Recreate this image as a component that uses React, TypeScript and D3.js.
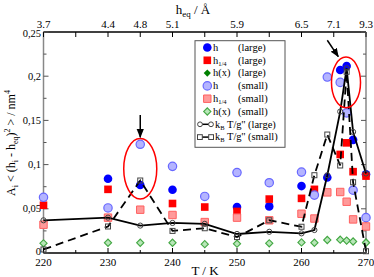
import React from 'react';
import * as d3 from 'd3';

const temps = [220, 230, 235, 240, 245, 250, 255, 260, 262, 264, 266, 267, 268, 270];

const hLarge = [null, 0.084, 0.077, 0.0716, null, 0.052, 0.0527, 0.0757, null, 0.0855, 0.207, 0.2116, 0.128, 0.089];
const h14Large = [0.054, 0.072, null, 0.056, 0.052, 0.047, 0.061, 0.0618, 0.072, null, 0.1115, 0.1246, 0.092, 0.087];
const hxLarge = [null, null, null, null, null, null, null, null, null, 0.0147, 0.015, 0.014, 0.013, 0.0125];
const hSmall = [0.063, 0.051, 0.123, 0.098, 0.064, 0.091, 0.0795, 0.0915, 0.0655, 0.199, 0.193, 0.1585, 0.071, 0.04];
const h14Small = [0.032, 0.04, 0.049, 0.043, 0.035, 0.04, 0.037, 0.0444, 0.039, 0.0686, 0.069, 0.058, 0.038, 0.03];
const hxSmall = [0.011, 0.0116, 0.0116, 0.0116, 0.01, 0.0105, 0.011, 0.012, 0.0116, 0.0147, 0.015, 0.014, 0.013, 0.0116];
const kLarge = [0.037, 0.04, 0.031, 0.034, 0.033, 0.0215, 0.024, 0.0222, 0.026, 0.088, 0.16, 0.209, 0.137, 0.09];
const kSmall = [0.004, 0.03, 0.082, 0.025, 0.028, 0.018, 0.037, 0.0297, 0.088, 0.134, 0.099, 0.205, 0.08, 0.002];

const xTicks = [220, 230, 240, 250, 260, 270];
const yTicks = [0, 0.05, 0.1, 0.15, 0.2, 0.25];
const yTickLabels = ['0', '0,05', '0,1', '0,15', '0,2', '0,25'];
const topTickT = [220, 230, 235, 240, 250, 260, 265, 270];
const topTickLabels = ['3.7', '4.4', '4.8', '5.1', '5.9', '6.5', '7.1', '9.3'];

// highlighted regions: [T centre, value centre, T half-width, value half-height]
const ellipses = [
  [235, 0.0953, 2.56, 0.0342],
  [266.9, 0.193, 2.25, 0.0286],
];
// arrows: [T start, v start, T end, v end]
const arrows = [
  [235, 0.156, 235, 0.131],
  [264, 0.2407, 265.7, 0.2222],
];

const W = 374;
const H = 277;
const serif = '"Liberation Serif", "DejaVu Serif", serif';

const x = d3.scaleLinear().domain([220, 270]).range([43.5, 366]);
const y = d3.scaleLinear().domain([0, 0.25]).range([253, 32]);

type Style = { shape: 'circle' | 'square' | 'diamond'; size: number; fill: string; stroke: string; sw: number };

const styles: Record<string, Style> = {
  hL: { shape: 'circle', size: 58, fill: '#0000ff', stroke: '#0000ff', sw: 0 },
  h14L: { shape: 'square', size: 58, fill: '#ff0000', stroke: '#ff0000', sw: 0 },
  hxL: { shape: 'diamond', size: 26, fill: '#008000', stroke: '#008000', sw: 0 },
  hS: { shape: 'circle', size: 55, fill: '#b4b4ff', stroke: '#6868ff', sw: 1.2 },
  h14S: { shape: 'square', size: 55, fill: '#ff9a9a', stroke: '#ff6060', sw: 1 },
  hxS: { shape: 'diamond', size: 26, fill: '#b8e6b8', stroke: '#44a844', sw: 1.1 },
};

function symPath(s: Style) {
  // diamonds are squares turned by 45 degrees
  const t = s.shape === 'circle' ? d3.symbolCircle : d3.symbolSquare;
  return d3.symbol().type(t).size(s.size)() || '';
}

function symTransform(s: Style, cx: number, cy: number) {
  return `translate(${cx},${cy})` + (s.shape === 'diamond' ? ' rotate(45)' : '');
}

function Points({ values, st }: { values: (number | null)[]; st: Style }) {
  const d = symPath(st);
  return (
    <g>
      {values.map((v, i) =>
        v == null ? null : (
          <path key={i} d={d} transform={symTransform(st, x(temps[i]), y(v))} fill={st.fill} stroke={st.stroke} strokeWidth={st.sw} />
        )
      )}
    </g>
  );
}

function KLine({ values, dashed, marker }: { values: number[]; dashed: boolean; marker: 'circle' | 'square' }) {
  const line = d3
    .line<number>()
    .x((_, i) => x(temps[i]))
    .y((v) => y(v));
  return (
    <g>
      <path d={line(values) || ''} fill="none" stroke="#000" strokeWidth={1.8} strokeDasharray={dashed ? '8,5' : undefined} />
      {values.map((v, i) =>
        marker === 'circle' ? (
          <circle key={i} cx={x(temps[i])} cy={y(v)} r={2.6} fill="none" stroke="#444" strokeWidth={1} />
        ) : (
          <rect key={i} x={x(temps[i]) - 2.5} y={y(v) - 2.5} width={5} height={5} fill="none" stroke="#444" strokeWidth={1} />
        )
      )}
    </g>
  );
}

function Legend() {
  const lx = 195;
  const ly = 40.7;
  const rows: { st?: Style; line?: 'solid' | 'dashed'; name: string; sub?: string; rest: string }[] = [
    { st: styles.hL, name: 'h', rest: '(large)' },
    { st: styles.h14L, name: 'h', sub: '1/4', rest: '(large)' },
    { st: styles.hxL, name: 'h(x)', rest: '(large)' },
    { st: styles.hS, name: 'h', rest: '(small)' },
    { st: styles.h14S, name: 'h', sub: '1/4', rest: '(small)' },
    { st: styles.hxS, name: 'h(x)', rest: '(small)' },
    { line: 'solid', name: 'k', sub: 'B', rest: "T/g'' (large)" },
    { line: 'dashed', name: 'k', sub: 'B', rest: "T/g'' (small)" },
  ];
  return (
    <g fontFamily={serif} fontSize={10.5}>
      <rect x={lx} y={ly} width={90} height={106.6} fill="#fff" stroke="#555" strokeWidth={1} />
      {rows.map((r, i) => {
        const cy = 47.5 + i * 12.8;
        if (r.st) {
          return (
            <g key={i}>
              <path d={symPath(r.st)} transform={symTransform(r.st, 207.3, cy)} fill={r.st.fill} stroke={r.st.stroke} strokeWidth={r.st.sw} />
              <text x={213} y={cy + 3.3}>
                {r.name}
                {r.sub && (
                  <tspan fontSize={6.5} dy={2}>
                    {r.sub}
                  </tspan>
                )}
              </text>
              <text x={238} y={cy + 3.3}>
                {r.rest}
              </text>
            </g>
          );
        }
        return (
          <g key={i}>
            <line x1={199} x2={212} y1={cy} y2={cy} stroke="#000" strokeWidth={1.5} />
            {r.line === 'solid' ? (
              <>
                <circle cx={200} cy={cy} r={2.4} fill="#fff" stroke="#444" />
                <circle cx={211} cy={cy} r={2.4} fill="#fff" stroke="#444" />
              </>
            ) : (
              <>
                <rect x={197.5} y={cy - 2.4} width={4.8} height={4.8} fill="#fff" stroke="#444" />
                <rect x={208.7} y={cy - 2.4} width={4.8} height={4.8} fill="#fff" stroke="#444" />
              </>
            )}
            <text x={215} y={cy + 3.3}>
              {r.name}
              <tspan fontSize={6.5} dy={2}>
                {r.sub}
              </tspan>
              <tspan dy={-2}>{' ' + r.rest}</tspan>
            </text>
          </g>
        );
      })}
    </g>
  );
}

export default function App() {
  const [x0, x1] = x.range();
  const [yb, yt] = y.range();
  const minorX = d3.range(220, 271, 5);
  const minorY = d3.range(0, 0.2501, 0.025);
  return (
    <svg width={W} height={H} style={{ position: 'absolute', left: 0, top: 0, background: '#fff' }}>
      {/* frame */}
      <line x1={x0} x2={x1} y1={yb} y2={yb} stroke="#000" strokeWidth={1.3} />
      <line x1={x0} x2={x1} y1={yt} y2={yt} stroke="#000" strokeWidth={1.3} />
      <line x1={x0} x2={x0} y1={yt} y2={yb} stroke="#888" strokeWidth={1.5} />
      <line x1={x1} x2={x1} y1={yt} y2={yb} stroke="#888" strokeWidth={1.5} />

      {/* ticks */}
      {minorX.map((t) => (
        <g key={'tx' + t}>
          <line x1={x(t)} x2={x(t)} y1={yb} y2={yb - (t % 10 === 0 ? 5 : 3)} stroke="#000" />
          <line x1={x(t)} x2={x(t)} y1={yt} y2={yt + 5} stroke="#000" />
        </g>
      ))}
      {minorY.map((v, i) => (
        <g key={'ty' + i}>
          <line x1={x0} x2={x0 + (i % 2 === 0 ? 5 : 3)} y1={y(v)} y2={y(v)} stroke="#555" />
          <line x1={x1} x2={x1 - (i % 2 === 0 ? 5 : 3)} y1={y(v)} y2={y(v)} stroke="#555" />
        </g>
      ))}

      <g fontFamily={serif} fontSize={11} fill="#000">
        {xTicks.map((t) => (
          <text key={t} x={x(t)} y={266} textAnchor="middle">
            {t}
          </text>
        ))}
        {topTickT.map((t, i) => (
          <text key={t} x={x(t)} y={27.5} textAnchor="middle">
            {topTickLabels[i]}
          </text>
        ))}
        {yTicks.map((v, i) => (
          <text key={v} x={41} y={y(v) + (i === 0 ? 2 : i === yTicks.length - 1 ? 5 : 3.5)} textAnchor="end" fontSize={10.5}>
            {yTickLabels[i]}
          </text>
        ))}
      </g>

      {/* axis titles */}
      <text x={205} y={275} textAnchor="middle" fontFamily={serif} fontSize={13}>
        T / K
      </text>
      <text x={193} y={14} textAnchor="middle" fontFamily={serif} fontSize={13}>
        h<tspan fontSize={9} dy={3}>eq</tspan>
        <tspan dy={-3}> / Å</tspan>
      </text>
      <text transform="translate(15,143) rotate(-90)" textAnchor="middle" fontFamily={serif} fontSize={12}>
        A<tspan fontSize={8} dy={3}>i</tspan>
        <tspan dy={-3}>{' < (h'}</tspan>
        <tspan fontSize={8} dy={3}>i</tspan>
        <tspan dy={-3}>{' - h'}</tspan>
        <tspan fontSize={8} dy={3}>eq</tspan>
        <tspan dy={-3}>)</tspan>
        <tspan fontSize={8} dy={-5}>2</tspan>
        <tspan dy={5}>{' > / nm'}</tspan>
        <tspan fontSize={8} dy={-5}>4</tspan>
      </text>

      {/* data */}
      <Points values={hLarge} st={styles.hL} />
      <Points values={h14Large} st={styles.h14L} />
      <Points values={hxLarge} st={styles.hxL} />
      <Points values={hSmall} st={styles.hS} />
      <Points values={h14Small} st={styles.h14S} />
      <Points values={hxSmall} st={styles.hxS} />
      <KLine values={kLarge} dashed={false} marker="circle" />
      <KLine values={kSmall} dashed={true} marker="square" />

      {/* highlights */}
      {ellipses.map((e, i) => (
        <ellipse
          key={'e' + i}
          cx={x(e[0])}
          cy={y(e[1])}
          rx={x(e[0] + e[2]) - x(e[0])}
          ry={y(e[1] - e[3]) - y(e[1])}
          fill="none"
          stroke="#ff0000"
          strokeWidth={1.5}
        />
      ))}
      <defs>
        <marker id="ah" viewBox="0 0 10 10" refX={9} refY={5} markerWidth={6} markerHeight={6} orient="auto">
          <path d="M0,1 L10,5 L0,9 z" fill="#000" />
        </marker>
      </defs>
      {arrows.map((a, i) => (
        <line key={'a' + i} x1={x(a[0])} y1={y(a[1])} x2={x(a[2])} y2={y(a[3])} stroke="#000" strokeWidth={1.5} markerEnd="url(#ah)" />
      ))}

      <Legend />
    </svg>
  );
}
